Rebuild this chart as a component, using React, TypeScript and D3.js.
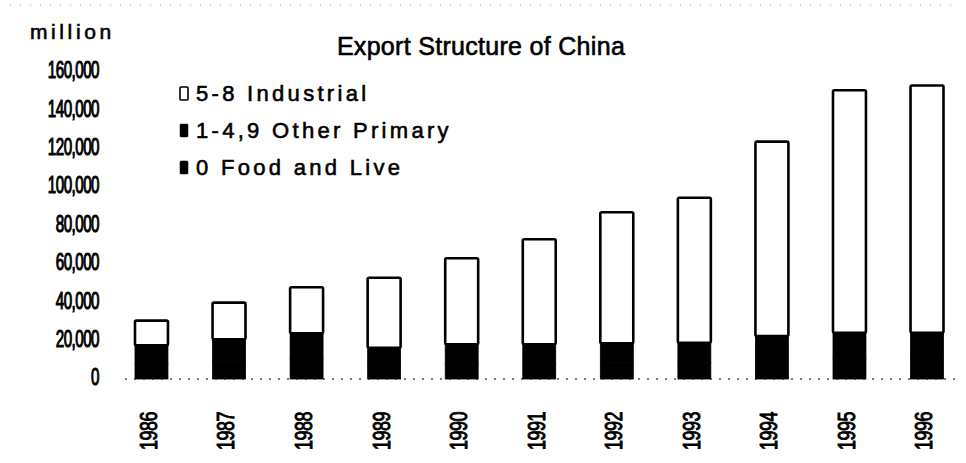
import React from "react";
import * as d3 from "d3";

// values in million (US$)
const years = ["1986", "1987", "1988", "1989", "1990", "1991", "1992", "1993", "1994", "1995", "1996"];
const foodLive = [7800, 9300, 10700, 7300, 8100, 8100, 8400, 8500, 10100, 10900, 10900];
const otherPrimary = [9700, 11400, 13100, 9000, 10000, 10000, 10200, 10400, 12300, 13200, 13200];
const industrial = [12900, 19100, 24000, 36500, 44800, 54700, 68300, 75600, 101300, 126400, 128900];
const yTicks = [0, 20000, 40000, 60000, 80000, 100000, 120000, 140000, 160000];

const seriesKeys = ["food", "other", "industrial"];
const legendItems = [
  { key: "industrial", label: "5-8 Industrial" },
  { key: "other", label: "1-4,9 Other Primary" },
  { key: "food", label: "0 Food and Live" },
];

const fills: Record<string, string> = { food: "#000", other: "#000", industrial: "#fff" };

const App: React.FC = () => {
  const width = 966;
  const height = 463;

  const rows = years.map((y, i) => ({
    year: y,
    food: foodLive[i],
    other: otherPrimary[i],
    industrial: industrial[i],
  }));

  const stack = d3.stack<any>().keys(seriesKeys)(rows);

  const x = d3
    .scaleBand()
    .domain(years)
    .range([112.7, 965.8])
    .paddingInner(0.575)
    .paddingOuter(0.2875);

  const y = d3.scaleLinear().domain([0, 160000]).range([379, 72]);

  const sans = "'Liberation Sans', Arial, sans-serif";
  const fmt = d3.format(",");

  // scanned print looks heavier than a plain font
  const ink = { stroke: "#000", strokeWidth: 0.6 };

  return (
    <svg
      width={width}
      height={height}
      style={{ position: "absolute", left: 0, top: 0, background: "#fff" }}
    >
      {/* scan noise along top */}
      <line x1={10} x2={960} y1={5} y2={5} stroke="#999" strokeWidth={1} strokeDasharray="1,9" />

      {/* unit + title */}
      <text x={30} y={39} fontFamily={sans} fontSize={21} letterSpacing={3.6} fill="#000" {...ink}>
        million
      </text>
      <text x={481} y={55} textAnchor="middle" fontFamily={sans} fontSize={25} letterSpacing={0.3} fill="#000" {...ink}>
        Export Structure of China
      </text>

      {/* Y axis labels (condensed) */}
      {yTicks.map((t) => (
        <text
          key={t}
          transform={`translate(99,${y(t) - 2}) scale(0.66,1)`}
          textAnchor="end"
          dominantBaseline="central"
          fontFamily={sans}
          fontSize={23}
          letterSpacing={-0.8}
          fill="#000"
          stroke="#000"
          strokeWidth={1.1}
        >
          {fmt(t)}
        </text>
      ))}

      {/* baseline */}
      <line
        x1={125}
        x2={962}
        y1={y(0)}
        y2={y(0)}
        stroke="#555"
        strokeWidth={1.5}
        strokeDasharray="2,7"
      />

      {/* Bars */}
      {stack.map((layer) =>
        layer.map((d, i) => {
          const bx = x(years[i])!;
          const top = y(d[1]);
          const bottom = y(d[0]);
          const isWhite = layer.key === "industrial";
          return (
            <rect
              key={layer.key + i}
              x={bx}
              y={top}
              width={x.bandwidth()}
              height={bottom - top}
              fill={fills[layer.key]}
              stroke={isWhite ? "#000" : "#000"}
              strokeWidth={isWhite ? 2.6 : 0.8}
              rx={isWhite ? 1.5 : 0}
            />
          );
        })
      )}

      {/* X axis labels */}
      {years.map((yr) => {
        const cx = x(yr)! + x.bandwidth() / 2 - 3;
        return (
          <text
            key={yr}
            transform={`translate(${cx},412) rotate(-90) scale(0.78,1)`}
            textAnchor="end"
            dominantBaseline="central"
            fontFamily={sans}
            fontSize={23}
            letterSpacing={-0.6}
            fill="#000"
            stroke="#000"
            strokeWidth={1}
          >
            {yr}
          </text>
        );
      })}

      {/* Legend */}
      {legendItems.map((item, i) => {
        const ly = 93.5 + i * 37;
        return (
          <g key={item.key}>
            <rect
              x={180}
              y={ly - 6.5}
              width={8}
              height={13}
              fill={fills[item.key]}
              stroke="#000"
              strokeWidth={item.key === "industrial" ? 1.6 : 0.5}
              rx={1}
            />
            <text
              x={196}
              y={ly}
              dominantBaseline="central"
              fontFamily={sans}
              fontSize={22}
              letterSpacing={3.3}
              fill="#000"
              {...ink}
            >
              {item.label}
            </text>
          </g>
        );
      })}
    </svg>
  );
};

export default App;
